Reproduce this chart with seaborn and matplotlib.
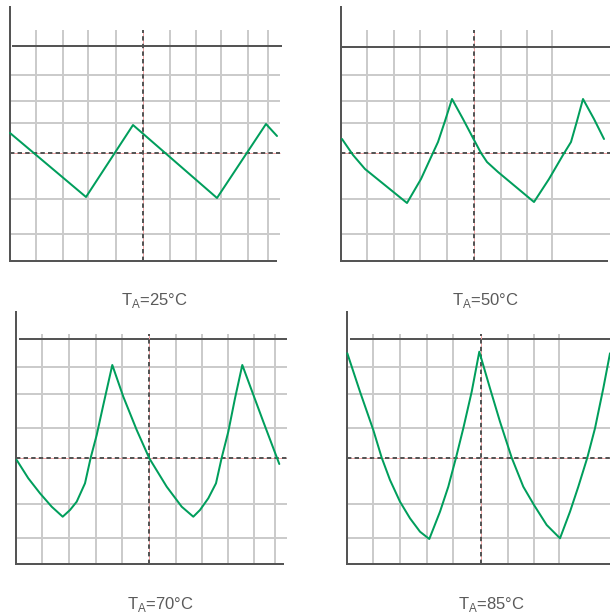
import matplotlib
matplotlib.use("Agg")
import matplotlib.pyplot as plt
import seaborn as sns
import pandas as pd

sns.set_style("white")
plt.rcParams['font.family'] = ['Liberation Sans', 'DejaVu Sans']

# ---------------- data (time / amplitude readings, arbitrary units) -------------
labels = [r"T$_\mathregular{A}$=25°C", r"T$_\mathregular{A}$=50°C",
          r"T$_\mathregular{A}$=70°C", r"T$_\mathregular{A}$=85°C"]

t25 = [0, 76, 123, 207, 256, 267]
v25 = [128, 64, 136, 63, 137, 125]

t50 = [1, 12, 24, 45, 66, 80, 91, 97, 104, 111, 122, 132, 140, 146, 157, 169, 193,
       208, 222, 230, 236, 242, 253, 263]
v50 = [122, 106, 92, 75, 58, 82, 106, 119, 140, 162, 142, 123, 108, 99, 89, 79, 59,
       82, 106, 119, 140, 162, 142, 122]

t70 = [0.7, 12.3, 24, 35.7, 46.7, 54, 60.7, 69, 74.7, 80.7, 87.3, 96.3, 107.3, 120.7,
       133.3, 150.7, 165.7, 177.3, 184, 192.3, 200, 205.7, 212.3, 219, 226.3, 247.3, 263.3]
v70 = [104, 85.7, 70.7, 57.3, 47.3, 54, 62.3, 80.7, 106.3, 129, 159, 199, 167.3, 134,
       105.7, 77.3, 57.3, 47.3, 54, 65.7, 80.7, 106.3, 132.3, 165.7, 199, 142.3, 100]

t85 = [0.3, 13, 26.3, 34.7, 43, 53, 63, 73, 82.3, 93, 101.3, 109, 116.3, 124.7, 132.3,
       143, 153, 164.7, 176.3, 187, 199.7, 213, 223, 231.3, 240.3, 248, 256.3, 263]
v85 = [210.7, 172.3, 134, 106.3, 84, 62.3, 45.7, 32.3, 25, 52.3, 77.3, 106.3, 135.7,
       172.3, 212.3, 175.7, 142.3, 106.3, 77.3, 59, 39, 25.7, 52.3, 77.3, 106.3, 135.7,
       175.7, 210.7]

# grid positions per panel
vgrid_top = [[26, 53, 78, 106, 160, 186, 211, 238, 258],
             [26, 53, 79, 106, 160, 186, 211],
             [26, 53, 80, 106, 160, 186, 212, 238, 259],
             [26, 53, 80, 106, 161, 187, 212]]
vcenter = [133, 133, 133, 134]
hgrid_top = [186, 160, 138, 62, 27]
hgrid_bot = [197, 170, 136, 60, 26]
hcenter = [108, 108, 106, 106]
ref_level = [215, 214, 225, 225]

# ---------------- layout (pixels in 610x616 canvas) -------------
W, H = 610, 616
panels = [
    dict(L=10, B=261, w=272, h=254, vtop=231, hend=270, bend=266, tstart=2, tend=272, hg=hgrid_top),
    dict(L=341, B=261, w=269, h=254, vtop=231, hend=269, bend=266, tstart=0, tend=269, hg=hgrid_top),
    dict(L=16, B=564, w=271, h=252, vtop=230, hend=271, bend=267, tstart=3, tend=271, hg=hgrid_bot),
    dict(L=347, B=564, w=263, h=252, vtop=230, hend=263, bend=263, tstart=3, tend=263, hg=hgrid_bot),
]
label_pos = [(154, 300), (485, 300), (160, 605), (491, 605)]
series = [(t25, v25), (t50, v50), (t70, v70), (t85, v85)]

fig = plt.figure(figsize=(W / 100, H / 100), dpi=100)
px = 72 / 100  # one pixel in points

grid_c = "#cbcbcb"
dark_c = "#555555"
green = "#009e5c"

for i, p in enumerate(panels):
    ax = fig.add_axes([p['L'] / W, (H - p['B']) / H, p['w'] / W, p['h'] / H])
    ax.set_xlim(0, p['w'])
    ax.set_ylim(0, p['h'])
    ax.set_xticks([])
    ax.set_yticks([])
    for s in ['top', 'right']:
        ax.spines[s].set_visible(False)
    ax.patch.set_alpha(0)
    ax.spines['left'].set_color(dark_c)
    ax.spines['left'].set_linewidth(2 * px)
    ax.spines['bottom'].set_color(dark_c)
    ax.spines['bottom'].set_linewidth(2 * px)
    ax.spines['bottom'].set_bounds(0, p['bend'])

    ax.vlines(vgrid_top[i], 0, p['vtop'], color=grid_c, lw=2 * px, zorder=1)
    ax.hlines(p['hg'], 0, p['hend'], color=grid_c, lw=2 * px, zorder=1)
    ax.hlines([ref_level[i]], p['tstart'], p['tend'], color=dark_c, lw=2 * px, zorder=2, clip_on=False)

    # center crosshair: pink thin line under dark dashes
    ax.vlines([vcenter[i]], 0, p['vtop'], color="#f2a5a5", lw=1 * px, zorder=2)
    ax.hlines([hcenter[i]], 0, p['hend'], color="#f2a5a5", lw=1 * px, zorder=2)
    ax.vlines([vcenter[i]], 0, p['vtop'], color=dark_c, lw=2 * px, zorder=3,
              linestyles=(0, (2.2, 1.6)))
    ax.hlines([hcenter[i]], 0, p['hend'], color=dark_c, lw=2 * px, zorder=3,
              linestyles=(0, (2.2, 1.6)))

    t, v = series[i]
    df = pd.DataFrame({"t": t, "v": v})
    sns.lineplot(data=df, x="t", y="v", sort=False, ax=ax, color=green,
                 lw=2 * px, zorder=4, clip_on=False, solid_joinstyle='round')
    ax.set_xlabel("")
    ax.set_ylabel("")

    lx, ly = label_pos[i]
    fig.text(lx / W, 1 - ly / H, labels[i], ha='center', va='center',
             fontsize=12, color="#5a5a5a")

fig.savefig("out.png", dpi=100)
